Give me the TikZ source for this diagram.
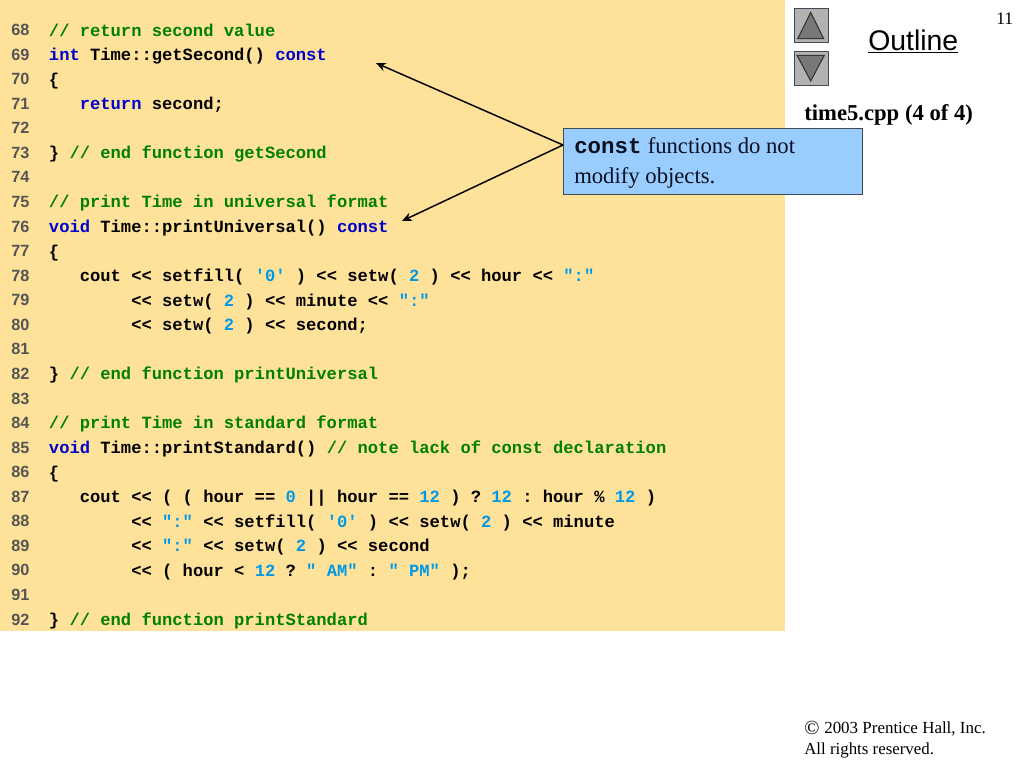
\documentclass[tikz,border=0pt]{standalone}
\usepackage{fontspec}
\usetikzlibrary{arrows.meta}
\setmainfont{Liberation Serif}
\setsansfont{Liberation Sans}
\setmonofont{Liberation Mono}
\definecolor{panel}{HTML}{FFE299}
\definecolor{kw}{HTML}{0000CC}
\definecolor{cm}{HTML}{008000}
\definecolor{lit}{HTML}{0099E6}
\definecolor{num}{HTML}{555555}
\definecolor{box}{HTML}{99CCFF}
\definecolor{edge}{HTML}{3F4A55}
\definecolor{ink}{HTML}{0A1020}
\newcommand{\K}[1]{\textcolor{kw}{#1}}
\newcommand{\C}[1]{\textcolor{cm}{#1}}
\newcommand{\Li}[1]{\textcolor{lit}{#1}}
\newcommand{\codeline}[3]{%
  \node[numtext] (n#1) at (11,{-35.6-24.56*(#1-68)}) {#1};
  \node[codetext] (l#1) at ({48.7+10.29*#2},{-36-24.56*(#1-68)}) {#3};}
\tikzset{
  x=0.75pt,y=0.75pt,
  numtext/.style={anchor=base west,inner sep=0,font=\sffamily\bfseries\fontsize{12.2}{14}\selectfont,text=num},
  codetext/.style={anchor=base west,inner sep=0,font=\ttfamily\bfseries\fontsize{12.86}{15}\selectfont,text=black},
  navbtn/.style={draw=edge,fill=black!30,line width=0.9pt},
  navtri/.style={draw=black!80,fill=black!53,line width=0.8pt,line join=miter},
  pointer/.style={draw=black,line width=1.1pt,-{Stealth[length=7.5pt,width=6.5pt]}},
  plain/.style={anchor=base west,inner sep=0,text=black},
}
\begin{document}
\begin{tikzpicture}
\useasboundingbox (0,0) rectangle (1024,-768);
\fill[panel] (0,0) rectangle (785,-631);
\codeline{68}{0}{\C{// return second value}}
\codeline{69}{0}{\K{int} Time::getSecond() \K{const}}
\codeline{70}{0}{\{}
\codeline{71}{3}{\K{return} second;}
\codeline{72}{0}{}
\codeline{73}{0}{\} \C{// end function getSecond}}
\codeline{74}{0}{}
\codeline{75}{0}{\C{// print Time in universal format}}
\codeline{76}{0}{\K{void} Time::printUniversal() \K{const}}
\codeline{77}{0}{\{}
\codeline{78}{3}{cout << setfill( \Li{'0'} ) << setw( \Li{2} ) << hour << \Li{":"}}
\codeline{79}{8}{<< setw( \Li{2} ) << minute << \Li{":"}}
\codeline{80}{8}{<< setw( \Li{2} ) << second;}
\codeline{81}{0}{}
\codeline{82}{0}{\} \C{// end function printUniversal}}
\codeline{83}{0}{}
\codeline{84}{0}{\C{// print Time in standard format}}
\codeline{85}{0}{\K{void} Time::printStandard() \C{// note lack of const declaration}}
\codeline{86}{0}{\{}
\codeline{87}{3}{cout << ( ( hour == \Li{0} || hour == \Li{12} ) ? \Li{12} : hour \% \Li{12} )}
\codeline{88}{8}{<< \Li{":"} << setfill( \Li{'0'} ) << setw( \Li{2} ) << minute}
\codeline{89}{8}{<< \Li{":"} << setw( \Li{2} ) << second}
\codeline{90}{8}{<< ( hour < \Li{12} ? \Li{" AM"} : \Li{" PM"} );}
\codeline{91}{0}{}
\codeline{92}{0}{\} \C{// end function printStandard}}
% callout
\node[draw=edge,fill=box,line width=1.1pt,anchor=north west,minimum width=224pt,minimum height=49.5pt,
      inner xsep=0pt,inner ysep=0pt] (callout) at (563,-128) {};
\node[plain,text=ink,font=\ttfamily\bfseries\fontsize{16.8}{20}\selectfont] (calla) at (574,-153.5) {const};
\node[plain,text=ink,font=\rmfamily\fontsize{17}{20}\selectfont] (callb) at (647.5,-153.5) {functions do not};
\node[plain,text=ink,font=\rmfamily\fontsize{17}{20}\selectfont] (callc) at (574,-183) {modify objects.};
\coordinate (fork) at (563,-145);
\coordinate (tipa) at (376,-63);
\coordinate (tipb) at (402,-221);
\draw[pointer] (fork) -- (tipa);
\draw[pointer] (fork) -- (tipb);
% navigation
\node[navbtn,anchor=north west,minimum width=25.5pt,minimum height=25.5pt,inner sep=0] (btnup) at (794,-8) {};
\node[navbtn,anchor=north west,minimum width=25.5pt,minimum height=25.5pt,inner sep=0] (btndown) at (794,-51) {};
\draw[navtri] (810.7,-12.5) -- (823.7,-38.7) -- (797.7,-38.7) -- cycle;
\draw[navtri] (810.7,-81) -- (824.3,-55.3) -- (797,-55.3) -- cycle;
\node[plain,font=\sffamily\fontsize{21.3}{25}\selectfont] (outline) at (868,-50) {\underline{Outline}};
\node[plain,font=\rmfamily\fontsize{13.2}{15}\selectfont] (page) at (996,-24) {11};
\node[plain,font=\rmfamily\bfseries\fontsize{17}{19}\selectfont] (title) at (804,-120) {time5.cpp (4 of 4)};
\node[plain,font=\rmfamily\fontsize{15}{15}\selectfont] (copy) at (804,-734) {©};
\node[plain,font=\rmfamily\fontsize{12.72}{15}\selectfont] (copyb) at (824,-733) {2003 Prentice Hall, Inc.};
\node[plain,font=\rmfamily\fontsize{12.65}{15}\selectfont] (rights) at (804,-754) {All rights reserved.};
\end{tikzpicture}
\end{document}
